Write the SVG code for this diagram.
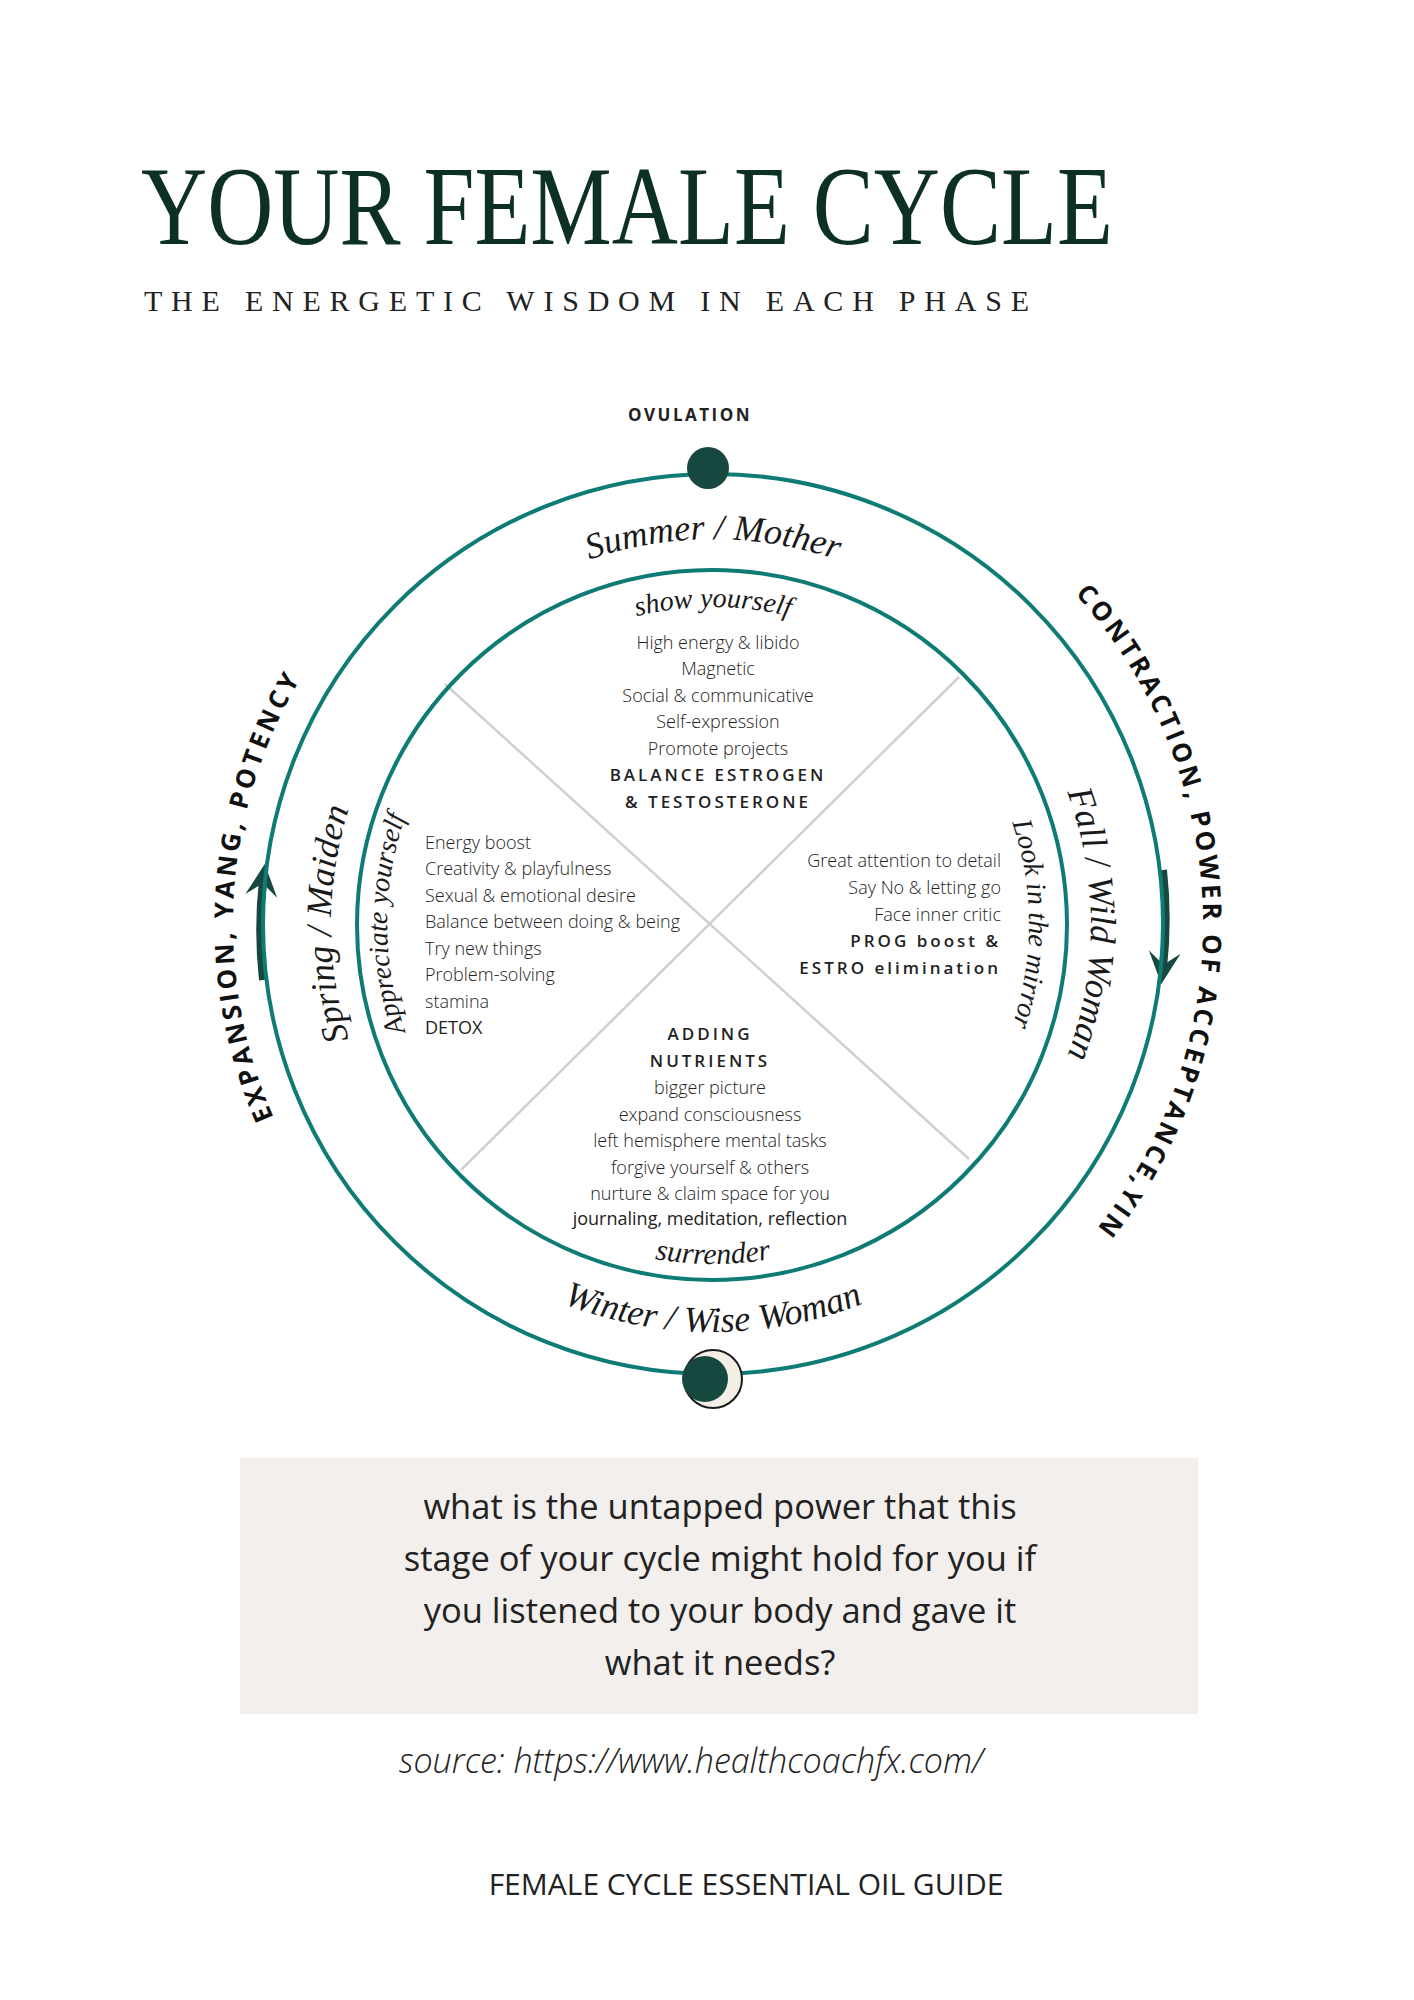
<svg xmlns="http://www.w3.org/2000/svg" width="1414" height="2000" viewBox="0 0 1414 2000">
<style>
.ser{font-family:"Liberation Serif","DejaVu Serif",serif;font-style:italic;fill:#1a1a1a}
.sans{font-family:"Open Sans","Noto Sans",sans-serif;fill:#222}
.lt{font-weight:300;font-size:18px}
.bd{font-weight:600;font-size:17px;letter-spacing:3px}
.out{font-family:"Open Sans","Noto Sans",sans-serif;font-weight:700;font-size:26px;letter-spacing:3.5px;fill:#111}
</style>
<defs>
<marker id="ah" viewBox="0 0 10 10" refX="5" refY="5" markerWidth="4" markerHeight="4" orient="auto">
<path d="M0,0 L10,5 L0,10 L4,5 Z" fill="#17483f"/>
</marker>
<path id="pSummer" d="M330,928 A385,385 0 0 1 1100,928"/>
<path id="pShow" d="M398,928 A317,317 0 0 1 1032,928"/>
<path id="pWinter" d="M307,928 A408,408 0 0 0 1123,928"/>
<path id="pSurr" d="M375,928 A340,340 0 0 0 1055,928"/>
<path id="pSpring" d="M715,1310 A382,382 0 0 1 715,546"/>
<path id="pAppr" d="M715,1254 A326,326 0 0 1 715,602"/>
<path id="pFall" d="M715,550 A378,378 0 0 1 715,1306"/>
<path id="pLook" d="M715,612 A316,316 0 0 1 715,1244"/>
<path id="pExp" d="M715,1408 A480,480 0 0 1 715,448"/>
<path id="pCon" d="M715,438 A490,490 0 0 1 715,1418"/>
</defs>
<rect width="1414" height="2000" fill="#fff"/>
<g id="title">
<text x="141" y="244" font-family="Liberation Serif,serif" font-size="112" fill="#0d3025" textLength="972" lengthAdjust="spacingAndGlyphs">YOUR FEMALE CYCLE</text>
<text x="144" y="311" font-family="Liberation Serif,serif" font-size="30" fill="#222" textLength="885" lengthAdjust="spacing">THE ENERGETIC WISDOM IN EACH PHASE</text>
</g>
<g transform="translate(-2,-4)">
<g id="connectors">
<line x1="447" y1="688" x2="971" y2="1163" stroke="#d0d0d0" stroke-width="2.5"/>
<line x1="961" y1="681" x2="463" y2="1174" stroke="#d0d0d0" stroke-width="2.5"/>
<path d="M265,984 A450,450 0 0 1 265,884" fill="none" stroke="#17483f" stroke-width="8" marker-end="url(#ah)"/>
<path d="M1165,874 A450,450 0 0 1 1165,972" fill="none" stroke="#17483f" stroke-width="8" marker-end="url(#ah)"/>
</g>
<g id="wheel">
<circle cx="715" cy="928" r="450" fill="none" stroke="#0e7c74" stroke-width="4"/>
<circle cx="714" cy="929" r="355" fill="none" stroke="#0e7c74" stroke-width="4"/>
</g>
<g id="ovulation">
<text x="692" y="425" class="sans" font-weight="700" font-size="17" letter-spacing="2.5" text-anchor="middle">OVULATION</text>
<circle cx="710" cy="472" r="21" fill="#17483f"/>
</g>
<g id="moon">
<circle cx="715" cy="1383" r="29" fill="#f3efe6" stroke="#1a1a1a" stroke-width="2"/>
<circle cx="707" cy="1383" r="23" fill="#17483f"/>
</g>
<g id="phase-labels">
<text class="ser" font-size="36"><textPath href="#pSummer" startOffset="50%" text-anchor="middle">Summer / Mother</textPath></text>
<text class="ser" font-size="28"><textPath href="#pShow" startOffset="50%" text-anchor="middle">show yourself</textPath></text>
<text class="ser" font-size="36"><textPath href="#pWinter" startOffset="50%" text-anchor="middle">Winter / Wise Woman</textPath></text>
<text class="ser" font-size="30"><textPath href="#pSurr" startOffset="50%" text-anchor="middle">surrender</textPath></text>
<text class="ser" font-size="36"><textPath href="#pSpring" startOffset="50%" text-anchor="middle">Spring / Maiden</textPath></text>
<text class="ser" font-size="28"><textPath href="#pAppr" startOffset="50%" text-anchor="middle">Appreciate yourself</textPath></text>
<text class="ser" font-size="36"><textPath href="#pFall" startOffset="50%" text-anchor="middle">Fall / Wild Woman</textPath></text>
<text class="ser" font-size="28"><textPath href="#pLook" startOffset="50%" text-anchor="middle">Look in the mirror</textPath></text>
</g>
<g id="outer-labels">
<text class="out"><textPath href="#pExp" startOffset="52%" text-anchor="middle">EXPANSION, YANG, POTENCY</textPath></text>
<text class="out"><textPath href="#pCon" startOffset="49%" text-anchor="middle">CONTRACTION, POWER OF ACCEPTANCE,YIN</textPath></text>
</g>
<g id="summer-quadrant" class="sans" text-anchor="middle">
<text x="720" y="653" class="lt">High energy &amp; libido</text>
<text x="720" y="679" class="lt">Magnetic</text>
<text x="720" y="706" class="lt">Social &amp; communicative</text>
<text x="720" y="732" class="lt">Self-expression</text>
<text x="720" y="759" class="lt">Promote projects</text>
<text x="720" y="785" class="bd">BALANCE ESTROGEN</text>
<text x="720" y="812" class="bd">&amp; TESTOSTERONE</text>
</g>
<g id="spring-quadrant" class="sans">
<text x="427" y="853" class="lt">Energy boost</text>
<text x="427" y="879" class="lt">Creativity &amp; playfulness</text>
<text x="427" y="906" class="lt">Sexual &amp; emotional desire</text>
<text x="427" y="932" class="lt">Balance between doing &amp; being</text>
<text x="427" y="959" class="lt">Try new things</text>
<text x="427" y="985" class="lt">Problem-solving</text>
<text x="427" y="1012" class="lt">stamina</text>
<text x="427" y="1038" font-size="18" font-weight="500">DETOX</text>
</g>
<g id="fall-quadrant" class="sans" text-anchor="end">
<text x="1003" y="871" class="lt">Great attention to detail</text>
<text x="1003" y="898" class="lt">Say No  &amp; letting go</text>
<text x="1003" y="925" class="lt">Face inner critic</text>
<text x="1003" y="951" class="bd">PROG boost &amp;</text>
<text x="1003" y="978" class="bd">ESTRO elimination</text>
</g>
<g id="winter-quadrant" class="sans" text-anchor="middle">
<text x="712" y="1044" class="bd">ADDING</text>
<text x="712" y="1071" class="bd">NUTRIENTS</text>
<text x="712" y="1098" class="lt">bigger picture</text>
<text x="712" y="1125" class="lt">expand consciousness</text>
<text x="712" y="1151" class="lt">left hemisphere mental tasks</text>
<text x="712" y="1178" class="lt">forgive yourself &amp; others</text>
<text x="712" y="1204" class="lt">nurture &amp; claim space for you</text>
<text x="712" y="1229" font-size="18" font-weight="500">journaling, meditation, reflection</text>
</g>
</g>
<g id="question">
<rect x="240" y="1458" width="958" height="256" fill="#f2efec"/>
<g class="sans" font-size="34.5" text-anchor="middle">
<text x="720" y="1519">what is the untapped power that this</text>
<text x="720" y="1571">stage of your cycle might hold for you if</text>
<text x="720" y="1623">you listened to your body and gave it</text>
<text x="720" y="1675">what it needs?</text>
</g>
</g>
<text id="source" x="691" y="1773" class="sans" font-size="34" font-style="italic" font-weight="300" text-anchor="middle">source: https://www.healthcoachfx.com/</text>
<text id="footer" x="746" y="1895" class="sans" font-size="30" text-anchor="middle">FEMALE CYCLE ESSENTIAL OIL GUIDE</text>
</svg>
